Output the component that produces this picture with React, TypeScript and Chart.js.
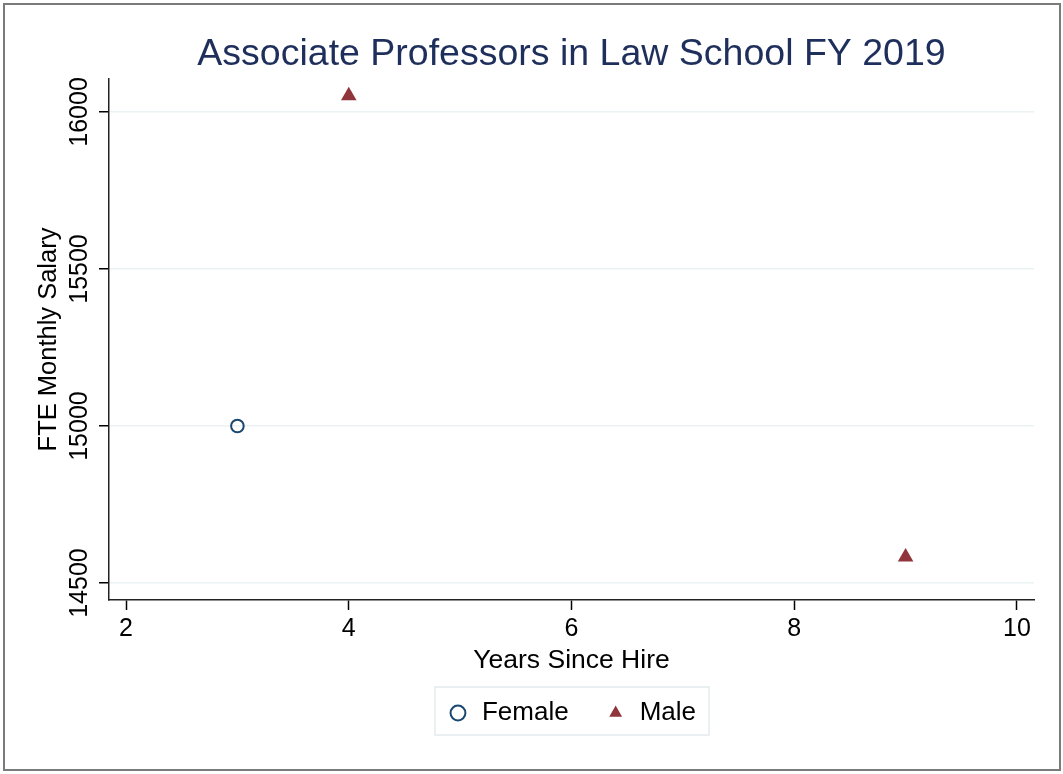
import { useEffect, useRef } from 'react';
import { Chart, registerables } from 'chart.js';

Chart.register(...registerables);

const chartTitle = 'Associate Professors in Law School FY 2019';
const xTitle = 'Years Since Hire';
const yTitle = 'FTE Monthly Salary';
const seriesNames = ['Female', 'Male'];
const femaleYears = [3];
const femaleSalary = [15000];
const maleYears = [4, 9];
const maleSalary = [16052, 14583];
const xTicks = [2, 4, 6, 8, 10];
const yTicks = [14500, 15000, 15500, 16000];

const FONT = '"Liberation Sans", Arial, Helvetica, sans-serif';

const legendFrame = {
  id: 'legendFrame',
  afterDraw(chart: any) {
    const lg = chart.legend;
    const hb = lg && lg.legendHitBoxes;
    if (!hb || !hb.length) return;
    const ctx = chart.ctx;
    const l = Math.min(...hb.map((h: any) => h.left)) - 12;
    const r = Math.max(...hb.map((h: any) => h.left + h.width)) + 13;
    const t = hb[0].top - 13;
    const b = hb[0].top + hb[0].height + 9;
    ctx.save();
    ctx.strokeStyle = '#e4ecee';
    ctx.lineWidth = 1.5;
    ctx.strokeRect(l, t, r - l, b - t);
    ctx.restore();
  },
};

export default function App() {
  const ref = useRef<HTMLCanvasElement>(null);
  useEffect(() => {
    if (!ref.current) return;
    const chart = new Chart(ref.current, {
      type: 'scatter',
      data: {
        datasets: [
          {
            label: seriesNames[0],
            data: femaleYears.map((x, i) => ({ x, y: femaleSalary[i] })),
            pointStyle: 'circle',
            pointRadius: 6.3,
            pointBorderWidth: 2,
            borderWidth: 2,
            borderColor: '#1a476f',
            backgroundColor: 'rgba(255,255,255,0)',
            pointBackgroundColor: 'rgba(255,255,255,0)',
            pointBorderColor: '#1a476f',
          },
          {
            label: seriesNames[1],
            data: maleYears.map((x, i) => ({ x, y: maleSalary[i] })),
            pointStyle: 'triangle',
            pointRadius: 9,
            pointBorderWidth: 0,
            borderWidth: 0,
            borderColor: '#90353b',
            backgroundColor: '#90353b',
            pointBackgroundColor: '#90353b',
            pointBorderColor: '#90353b',
          },
        ],
      },
      options: {
        responsive: false,
        animation: false,
        events: [],
        layout: { padding: { top: 0, left: 0, right: 29, bottom: 38 } },
        scales: {
          x: {
            type: 'linear',
            min: 1.847,
            max: 10.153,
            afterBuildTicks: (s: any) => {
              s.ticks = xTicks.map((v) => ({ value: v }));
            },
            afterFit: (s: any) => {
              s.height = 64;
            },
            ticks: {
              font: { size: 25, family: FONT },
              color: '#000',
              padding: 4,
              autoSkip: false,
              maxRotation: 0,
              minRotation: 0,
              callback: (v: any) => String(v),
            },
            title: {
              display: true,
              text: xTitle,
              font: { size: 26.5, family: FONT },
              color: '#000',
              padding: { top: 0, bottom: -12.5 },
            },
            grid: {
              drawOnChartArea: false,
              drawTicks: true,
              tickLength: 10,
              tickColor: '#000',
              tickWidth: 1.5,
            },
            border: { display: true, color: '#222', width: 1.5 },
          },
          y: {
            type: 'linear',
            min: 14446,
            max: 16105,
            afterBuildTicks: (s: any) => {
              s.ticks = yTicks.map((v) => ({ value: v }));
            },
            afterFit: (s: any) => {
              s.width = 109;
            },
            ticks: {
              font: { size: 25, family: FONT },
              color: '#000',
              padding: -15.5,
              autoSkip: false,
              minRotation: 90,
              maxRotation: 90,
              crossAlign: 'center',
              callback: (v: any) => String(v),
            },
            title: {
              display: true,
              text: yTitle,
              font: { size: 25.5, family: FONT },
              color: '#000',
              padding: { top: 34, bottom: 0 },
            },
            grid: {
              color: '#eaf2f3',
              lineWidth: 1.5,
              drawTicks: true,
              tickLength: 10,
              tickColor: '#000',
              tickWidth: 1.5,
            },
            border: { display: true, color: '#222', width: 1.5 },
          },
        },
        plugins: {
          title: {
            display: true,
            text: chartTitle,
            color: '#1f2f5c',
            font: { size: 37.5, family: FONT, weight: 'normal' },
            padding: { top: 32, bottom: 2 },
            fullSize: false,
          },
          legend: {
            display: true,
            position: 'bottom',
            fullSize: false,
            labels: {
              usePointStyle: true,
              boxWidth: 22,
              boxHeight: 10.5,
              font: { size: 26, family: FONT },
              color: '#000',
              padding: 36,
            },
          },
          tooltip: { enabled: false },
        },
      } as any,
      plugins: [legendFrame],
    });
    return () => chart.destroy();
  }, []);

  return (
    <div style={{ position: 'absolute', left: 0, top: 0, width: 1063, height: 774, background: '#fff' }}>
      <canvas ref={ref} width={1063} height={774} style={{ display: 'block' }} />
      <div
        style={{
          position: 'absolute',
          left: 3,
          top: 3,
          width: 1058,
          height: 768,
          border: '2px solid #7b7b7b',
          boxSizing: 'border-box',
          pointerEvents: 'none',
        }}
      />
    </div>
  );
}
